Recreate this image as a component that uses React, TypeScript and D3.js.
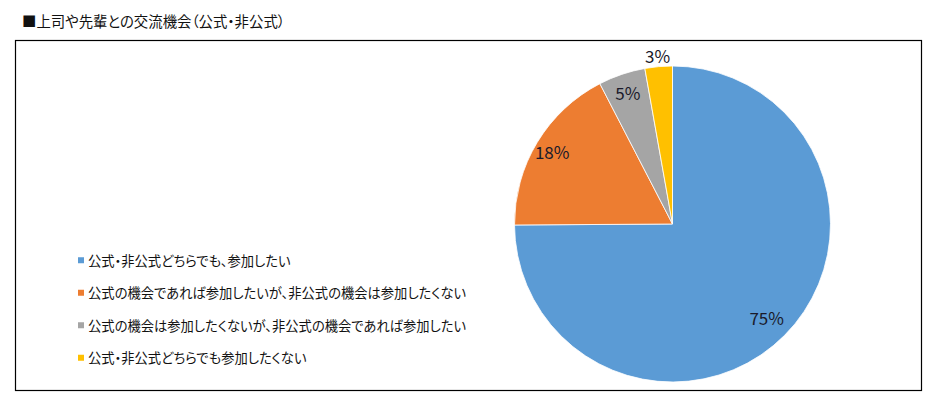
import React, { useEffect, useRef } from 'react';
import * as d3 from 'd3';

const title = '■上司や先輩との交流機会（公式・非公式）';
const categories = [
  '公式・非公式どちらでも、参加したい',
  '公式の機会であれば参加したいが、非公式の機会は参加したくない',
  '公式の機会は参加したくないが、非公式の機会であれば参加したい',
  '公式・非公式どちらでも参加したくない',
];
const values = [74.9, 17.5, 4.8, 2.8];
const labels = ['75%', '18%', '5%', '3%'];
const colors = ['#5b9bd5', '#ed7d31', '#a5a5a5', '#ffc000'];

const W = 938;
const H = 399;
const FONT = '"Noto Sans CJK JP", "Noto Sans", sans-serif';

const App: React.FC = () => {
  const svgRef = useRef<SVGSVGElement>(null);

  useEffect(() => {
    if (!svgRef.current) return;
    const svg = d3.select(svgRef.current);
    svg.selectAll('*').remove();

    svg.append('rect')
      .attr('width', W).attr('height', H).attr('fill', '#fff');

    svg.append('text')
      .attr('x', 22).attr('y', 27)
      .attr('font-family', FONT).attr('font-size', 14.4)
      .style('font-feature-settings', '"palt"')
      .attr('fill', '#111')
      .text(title);

    // chart frame
    svg.append('rect')
      .attr('x', 15.5).attr('y', 40.5)
      .attr('width', 906).attr('height', 350)
      .attr('fill', 'none').attr('stroke', '#000').attr('stroke-width', 1.2);

    const cx = 672.5;
    const cy = 224;
    const r = 158;

    const pie = d3.pie<number>().sort(null).value(d => d);
    const arcs = pie(values);
    const arc = d3.arc<d3.PieArcDatum<number>>().innerRadius(0).outerRadius(r);

    const g = svg.append('g').attr('transform', `translate(${cx},${cy})`);

    g.selectAll('path.slice')
      .data(arcs)
      .enter()
      .append('path')
      .attr('class', 'slice')
      .attr('d', arc)
      .attr('fill', (d, i) => colors[i])
      .attr('stroke', '#fff')
      .attr('stroke-width', 0.8);

    // data labels: inside for the big ones, the smallest pushed outside
    const labelRadius = [0.84, 0.89, 0.88, 1.07];
    g.selectAll('text.lbl')
      .data(arcs)
      .enter()
      .append('text')
      .attr('class', 'lbl')
      .attr('transform', (d, i) => {
        const a = (d.startAngle + d.endAngle) / 2;
        const rr = r * labelRadius[i];
        return `translate(${Math.sin(a) * rr},${-Math.cos(a) * rr})`;
      })
      .attr('text-anchor', 'middle')
      .attr('dominant-baseline', 'central')
      .attr('font-family', FONT)
      .attr('font-size', 17)
      .attr('fill', '#1a1a2a')
      .text((d, i) => labels[i]);

    // legend
    const ly = d3.scaleBand<number>()
      .domain(d3.range(categories.length))
      .range([244, 374]);

    const leg = svg.append('g')
      .selectAll('g')
      .data(categories)
      .enter()
      .append('g')
      .attr('transform', (d, i) => `translate(78,${(ly(i) || 0) + ly.bandwidth() / 2})`);

    leg.append('rect')
      .attr('x', 0).attr('y', -3)
      .attr('width', 6).attr('height', 6)
      .attr('fill', (d, i) => colors[i]);

    leg.append('text')
      .attr('x', 10)
      .attr('dominant-baseline', 'central')
      .attr('font-family', FONT)
      .attr('font-size', 13.3)
      .style('font-feature-settings', '"palt"')
      .attr('fill', '#111')
      .text(d => d);
  }, []);

  return (
    <svg
      ref={svgRef}
      width={W}
      height={H}
      style={{ position: 'absolute', left: 0, top: 0 }}
    />
  );
};

export default App;
